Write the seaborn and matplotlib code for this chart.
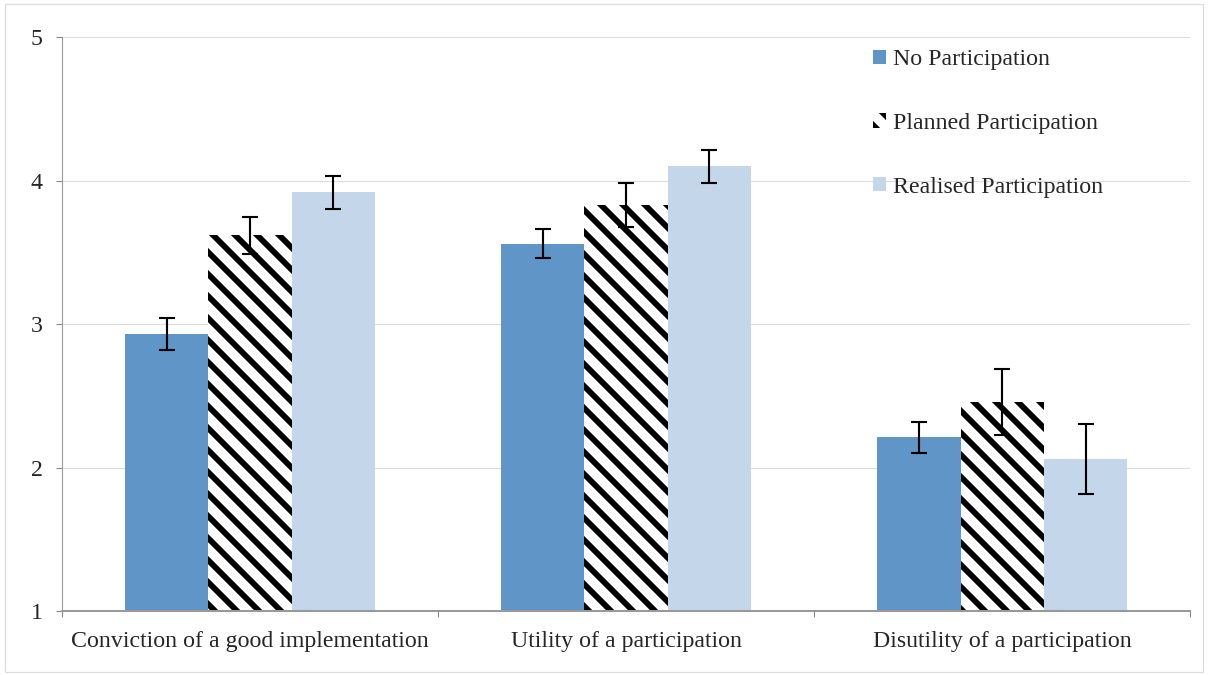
import numpy as np
import pandas as pd
import seaborn as sns
import matplotlib.pyplot as plt
from matplotlib.patches import Patch, Rectangle

# =========================
# data
# =========================
categories = ['Conviction of a good implementation', 'Utility of a participation', 'Disutility of a participation']
groups = ['No Participation', 'Planned Participation', 'Realised Participation']

no_part = [2.93, 3.56, 2.21]
planned = [3.62, 3.83, 2.46]
realised = [3.92, 4.10, 2.06]

no_part_err = [0.11, 0.10, 0.105]
planned_err = [0.13, 0.155, 0.23]
realised_err = [0.115, 0.115, 0.245]

yticks = [1, 2, 3, 4, 5]

df = pd.DataFrame({
    'category': categories * 3,
    'group': [g for g in groups for _ in categories],
    'value': no_part + planned + realised,
    'err': no_part_err + planned_err + realised_err,
})

# =========================
# style
# =========================
DPI = 132  # hatch spacing is per inch, this gives ~22px stripes
sns.set_style('white')
plt.rcParams['font.family'] = ['Liberation Serif', 'DejaVu Serif']
plt.rcParams['hatch.linewidth'] = 3.2

colors = {'No Participation': '#5F95C7', 'Planned Participation': '#FFFFFF', 'Realised Participation': '#C4D6EA'}

fig = plt.figure(figsize=(1208 / DPI, 675 / DPI), dpi=DPI)
ax = fig.add_axes([0.0513, 0.0948, 0.934, 0.850])

sns.barplot(data=df, x='category', y='value', hue='group', hue_order=groups,
            palette=colors, width=0.665, errorbar=None, ax=ax,
            saturation=1, linewidth=0, legend=False)

# hatch + error bars
for container, g in zip(ax.containers, groups):
    sub = df[df['group'] == g]
    xs = [p.get_x() + p.get_width() / 2 for p in container.patches]
    if g == 'Planned Participation':
        for p in container.patches:
            p.set_hatch('\\\\')
            p.set_edgecolor('black')
            p.set_linewidth(0)
    ax.errorbar(xs, sub['value'].values, yerr=sub['err'].values, fmt='none',
                ecolor='black', elinewidth=1.15, capsize=4.5, capthick=1.15, zorder=5)

ax.set_ylim(1, 5)
ax.set_xlim(-0.5, 2.5)
ax.set_yticks(yticks)
ax.set_yticklabels([str(t) for t in yticks], fontsize=13)
ax.set_xlabel('')
ax.set_ylabel('')
ax.tick_params(axis='x', length=0, labelsize=13, pad=11)
ax.tick_params(axis='y', length=3.5, width=0.6, color='#888888', pad=7, left=True)
ax.set_xticks([-0.5, 0.5, 1.5, 2.5], minor=True)
ax.tick_params(axis='x', which='minor', length=3.5, width=0.6, color='#888888', bottom=True)

ax.grid(axis='y', color='#dddddd', linewidth=0.6)
ax.set_axisbelow(True)
for s in ['top', 'right']:
    ax.spines[s].set_visible(False)
ax.spines['left'].set_color('#999999')
ax.spines['left'].set_linewidth(0.6)
ax.spines['bottom'].set_color('#999999')
ax.spines['bottom'].set_linewidth(1.1)

# legend
handles = [
    Patch(facecolor=colors['No Participation'], edgecolor='none'),
    Patch(facecolor='white', edgecolor='black', hatch='\\\\', linewidth=0),
    Patch(facecolor=colors['Realised Participation'], edgecolor='none'),
]
ax.legend(handles, groups, loc='upper left', bbox_to_anchor=(0.719, 0.979),
          frameon=False, fontsize=13, handlelength=0.55, handleheight=0.55,
          handletextpad=0.3, labelspacing=1.79, borderpad=0, borderaxespad=0)

# outer frame
fig.patches.append(Rectangle((0.004, 0.004), 0.992, 0.99, transform=fig.transFigure,
                             fill=False, edgecolor='#dddddd', linewidth=0.7))

fig.savefig('out.png', dpi=DPI)
